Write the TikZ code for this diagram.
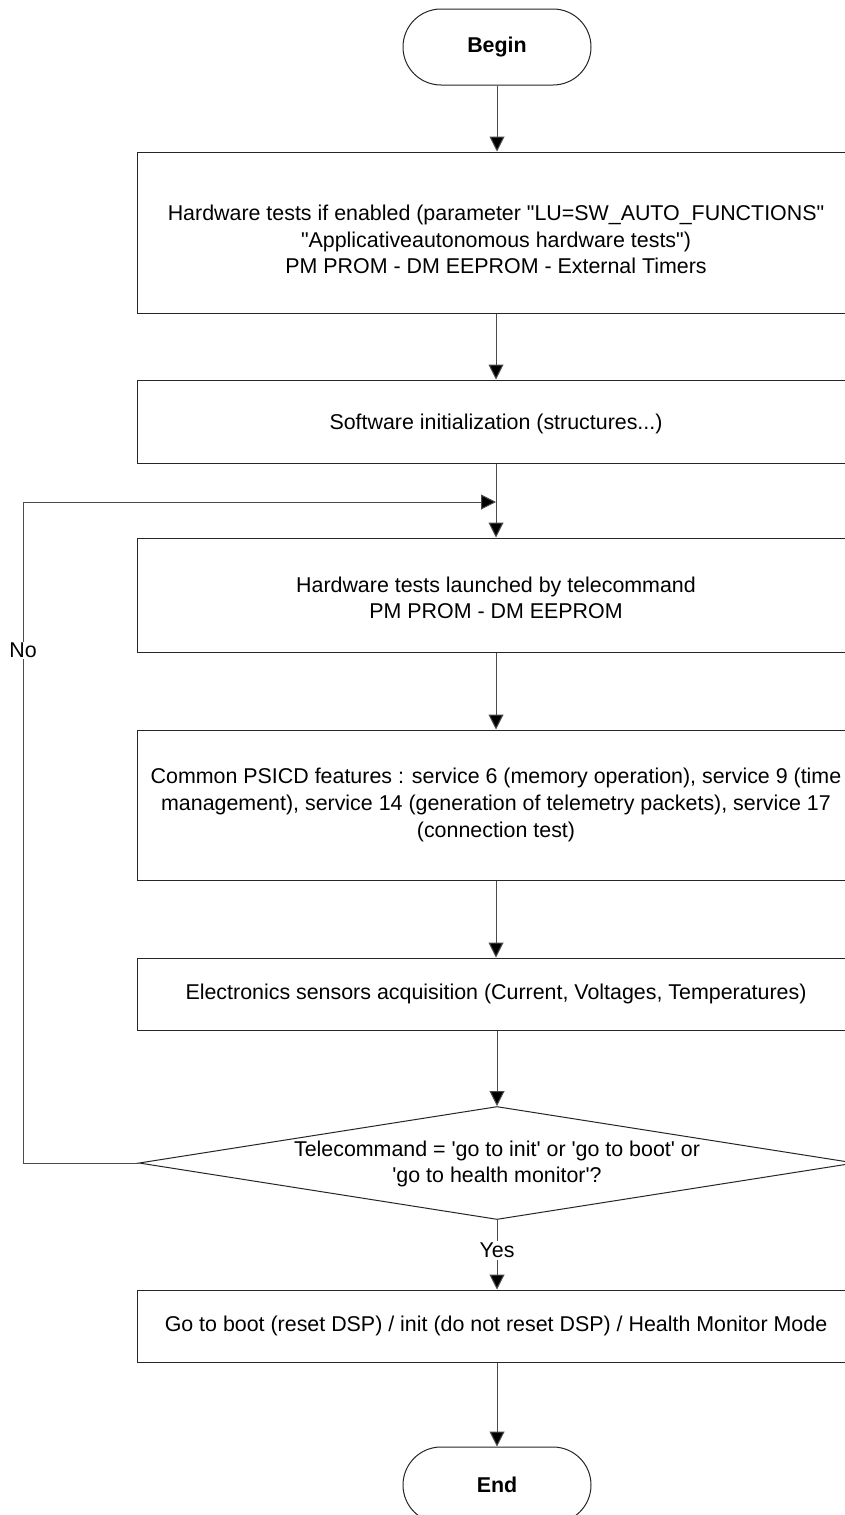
\documentclass[tikz,border=0pt]{standalone}
\usepackage{fontspec}
\setmainfont{Liberation Sans}[Ligatures=TeXOff]
\usetikzlibrary{arrows.meta,shapes.geometric}
\begin{document}
\begin{tikzpicture}[x=1pt,y=-1pt,
  every node/.style={font=\fontsize{21.4}{26.6}\selectfont},
  box/.style={draw=black!85,line width=1pt,rectangle,minimum width=718,align=center,inner sep=0},
  txt/.style={align=center,inner sep=0},
  term/.style={draw=black!85,line width=1pt,rectangle,rounded corners=38,minimum width=188,minimum height=76,font=\fontsize{21.4}{26.6}\selectfont\bfseries},
  conn/.style={draw=black!70,line width=1pt},
  arr/.style={conn,-{Triangle[length=15,width=15,fill=black]}},
  lab/.style={fill=white,inner sep=2pt}
]
\clip (0,0) rectangle (845,1515);
\fill[white] (0,0) rectangle (845,1515);
\node[term] (begin) at (497,47) {Begin};
\node[box,minimum height=161] (b1) at (496,232.5) {};
\node[txt] (b1t) at (496,239.5) {Hardware tests if enabled (parameter "LU=SW\_AUTO\_FUNCTIONS"\\"Applicativeautonomous hardware tests")\\PM PROM - DM EEPROM - External Timers};
\node[box,minimum height=83] (b2) at (496,421.5) {};
\node[txt] (b2t) at (496,424) {Software initialization (structures...)};
\node[box,minimum height=114] (b3) at (496,595) {};
\node[txt] (b3t) at (496,598) {Hardware tests launched by telecommand\\PM PROM - DM EEPROM};
\node[box,minimum height=150] (b4) at (496,805) {Common PSICD features : service 6 (memory operation), service 9 (time\\management), service 14 (generation of telemetry packets), service 17\\(connection test)};
\node[box,minimum height=72] (b5) at (496,994) {Electronics sensors acquisition (Current, Voltages, Temperatures)};
\node[draw=black!85,line width=1pt,diamond,aspect=6.35,minimum width=716,minimum height=113,inner sep=0] (dec) at (497,1163) {};
\node[txt] (dect) at (497,1164) {Telecommand = 'go to init' or 'go to boot' or\\'go to health monitor'?};
\node[box,minimum height=72] (b6) at (496,1326) {Go to boot (reset DSP) / init (do not reset DSP) / Health Monitor Mode};
\node[term] (end) at (497,1485) {End};
\coordinate (lx) at (23,1163);
\coordinate (ly) at (23,502);
\coordinate (lm) at (496,502);
\draw[arr] (begin.south) -- (b1.north -| begin.south);
\draw[arr] (b1) -- (b2);
\draw[arr] (b2) -- (b3);
\draw[arr] (b3) -- (b4);
\draw[arr] (b4) -- (b5);
\draw[arr] (b5.south -| dec.north) -- (dec.north);
\draw[arr] (dec.south) -- node[lab,pos=0.44] {Yes} (b6.north -| dec.south);
\draw[arr] (b6.south -| end.north) -- (end.north);
\draw[conn] (dec.west) -- (lx) -- node[lab,pos=0.775,inner sep=1pt] {No} (ly);
\draw[arr] (ly) -- (lm);
\end{tikzpicture}
\end{document}
